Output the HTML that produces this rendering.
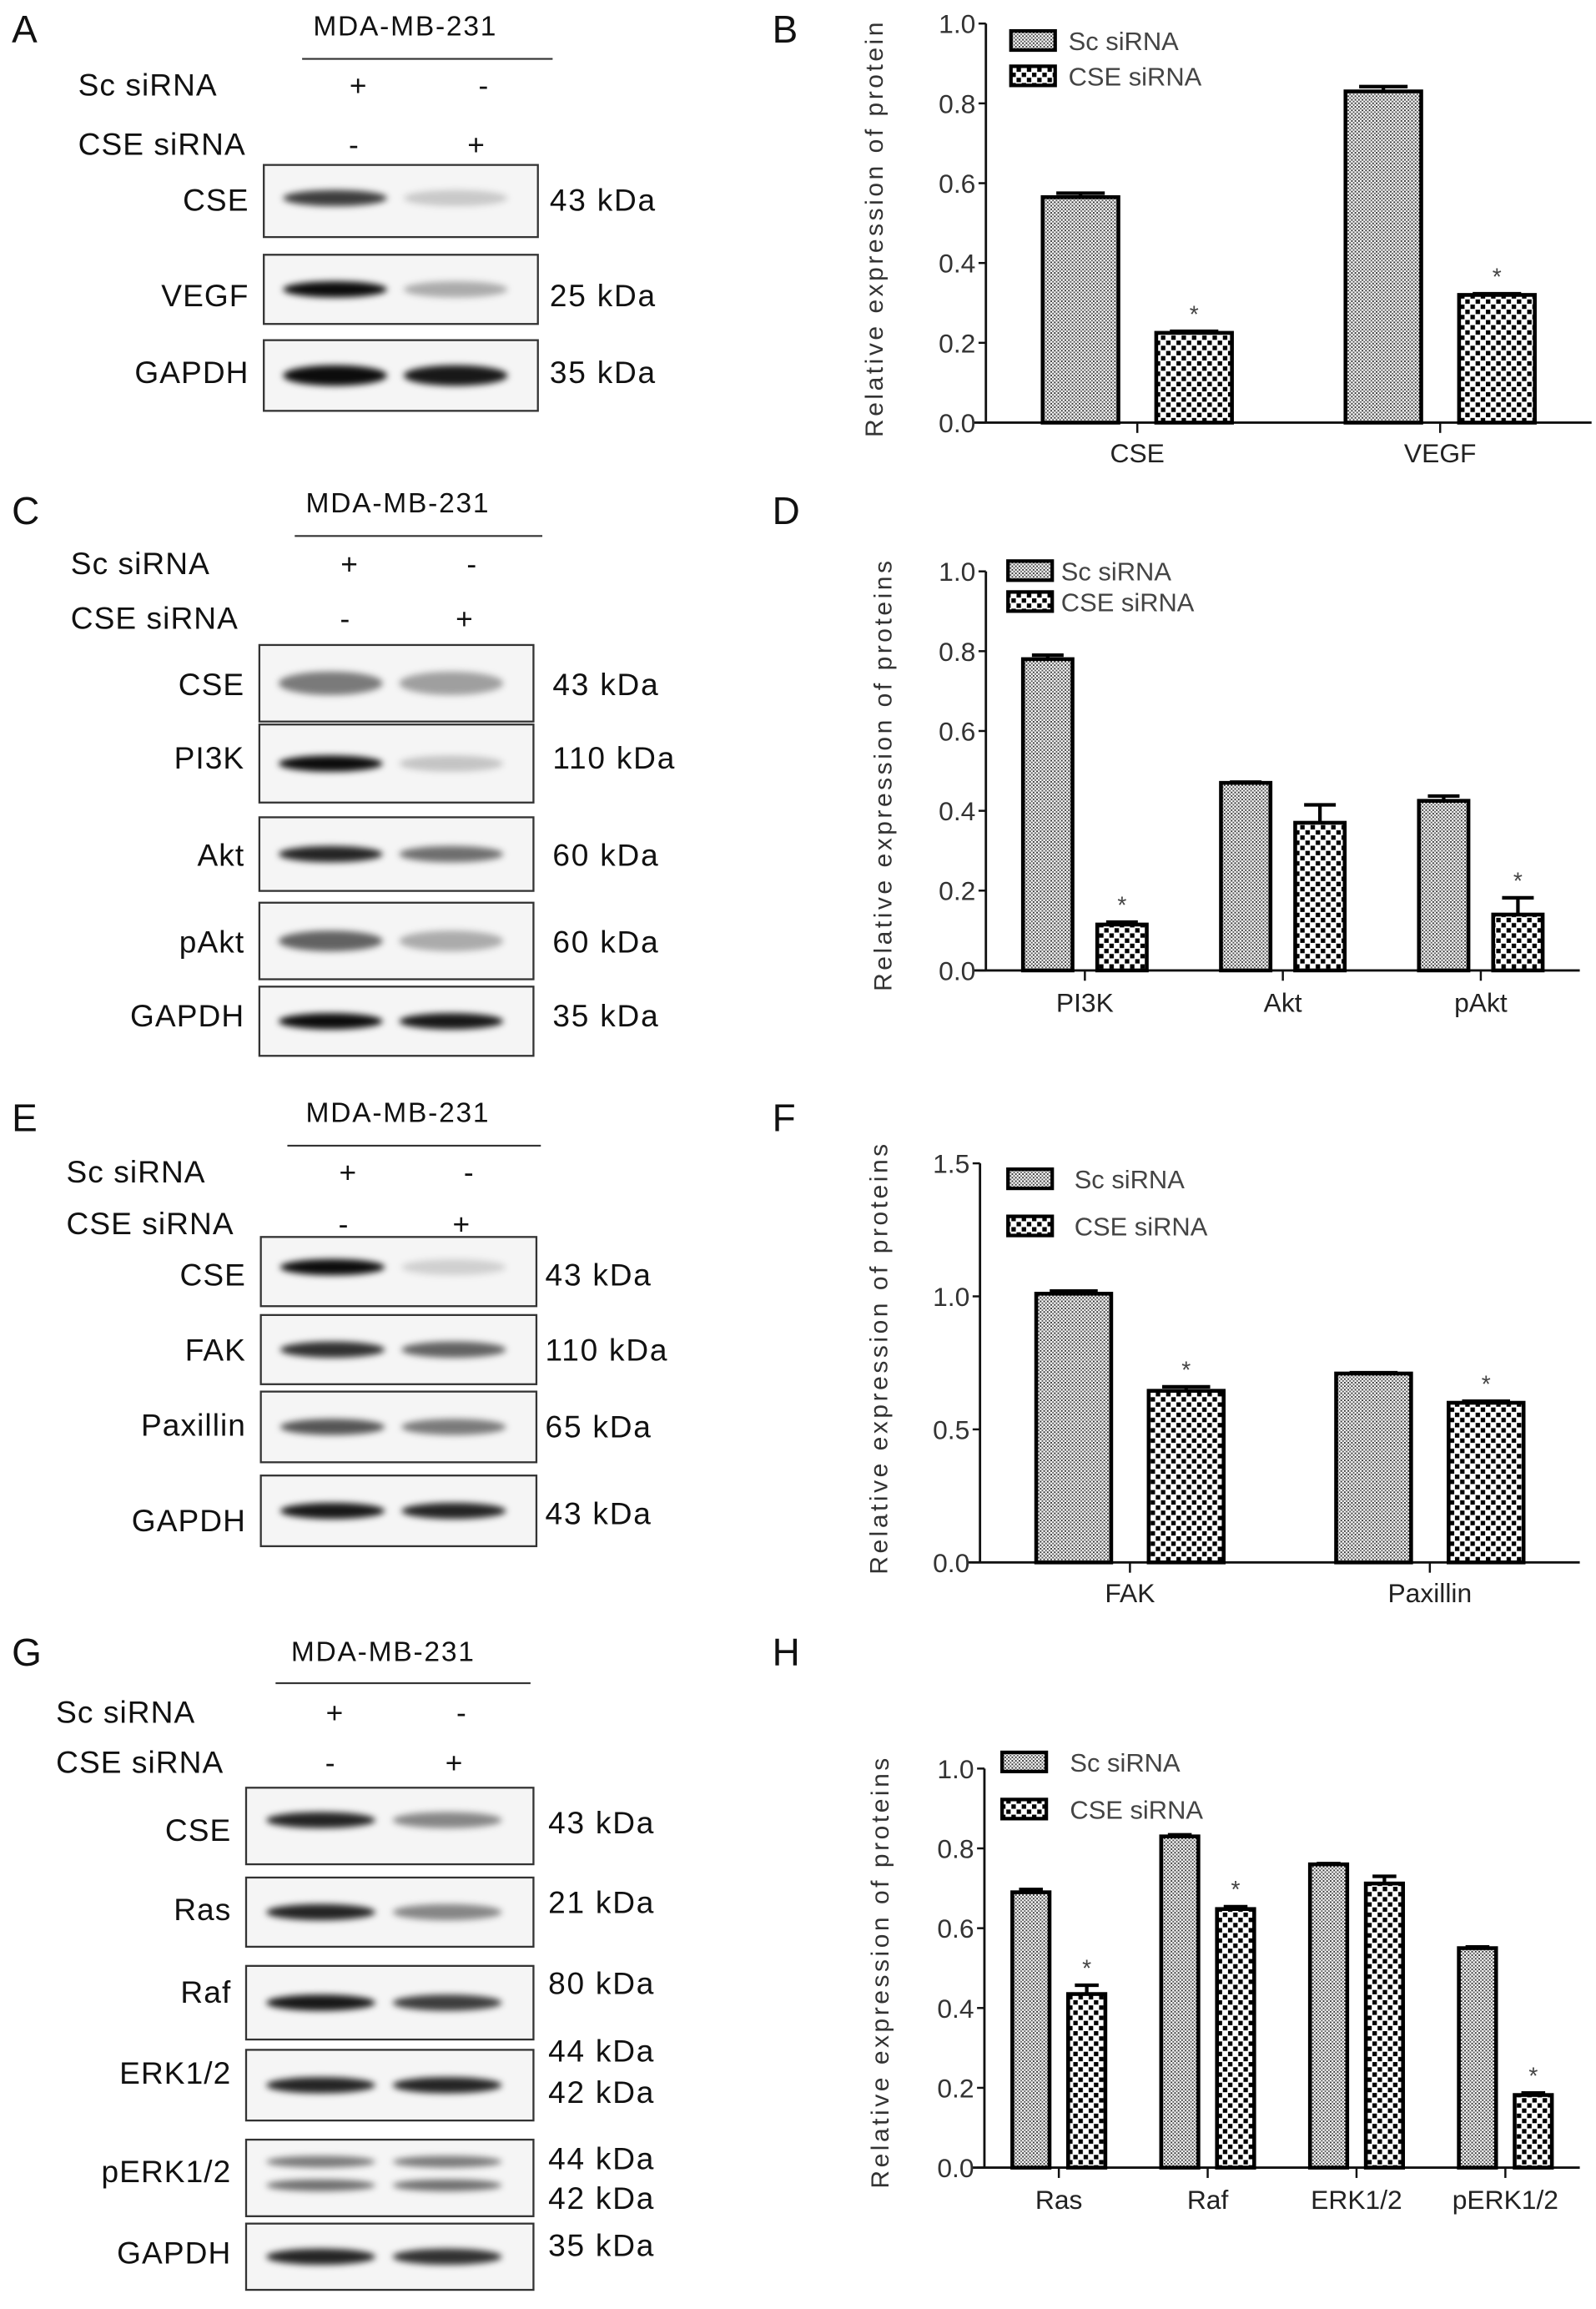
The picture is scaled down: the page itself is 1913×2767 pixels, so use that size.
<!DOCTYPE html>
<html><head><meta charset="utf-8">
<style>
html,body{margin:0;padding:0;background:#fff;}
svg{display:block;}
text{font-family:"Liberation Sans",Arial,sans-serif;}
</style></head>
<body>
<svg id="fig" width="1913" height="2767" viewBox="0 0 1083 1568" preserveAspectRatio="none" xmlns="http://www.w3.org/2000/svg">
<defs>
<pattern id="patSc" width="2.4" height="2.4" patternUnits="userSpaceOnUse">
<rect width="2.4" height="2.4" fill="#fff"/><rect x="0" y="0" width="1.1" height="1.1" fill="#333"/><rect x="1.2" y="1.2" width="1.1" height="1.1" fill="#555"/>
</pattern>
<pattern id="patCse" width="7" height="7" patternUnits="userSpaceOnUse">
<rect width="7" height="7" fill="#fff"/><rect x="0.3" y="0.3" width="3" height="3" fill="#000"/><rect x="3.8" y="3.8" width="3" height="3" fill="#000"/>
</pattern>
<filter id="blur" x="-30%" y="-80%" width="160%" height="260%"><feGaussianBlur stdDeviation="2.2"/></filter>
</defs>
<g id="panels"></g>
</svg>
<script>
// ---------- Chart data ----------
const bCats = ["CSE","VEGF"];
const bSc = [0.565, 0.83];
const bScErr = [0.01, 0.012];
const bCse = [0.225, 0.32];
const bCseErr = [0.004, 0.003];

const dCats = ["PI3K","Akt","pAkt"];
const dSc = [0.78, 0.47, 0.425];
const dScErr = [0.01, 0.002, 0.012];
const dCse = [0.115, 0.37, 0.14];
const dCseErr = [0.006, 0.045, 0.042];

const fCats = ["FAK","Paxillin"];
const fSc = [1.01, 0.71];
const fScErr = [0.01, 0.003];
const fCse = [0.645, 0.60];
const fCseErr = [0.015, 0.006];

const hCats = ["Ras","Raf","ERK1/2","pERK1/2"];
const hSc = [0.69, 0.83, 0.76, 0.55];
const hScErr = [0.007, 0.004, 0.002, 0.003];
const hCse = [0.435, 0.648, 0.712, 0.182];
const hCseErr = [0.022, 0.006, 0.018, 0.005];

const yTicksB = [0,0.2,0.4,0.6,0.8,1.0];
const yTickLabelsB = ["0.0","0.2","0.4","0.6","0.8","1.0"];
const yTicksF = [0,0.5,1.0,1.5];
const yTickLabelsF = ["0.0","0.5","1.0","1.5"];

const NS = "http://www.w3.org/2000/svg";
const root = document.getElementById("panels");
function mk(tag, attrs, parent){
  const e = document.createElementNS(NS, tag);
  for (const k in attrs) e.setAttribute(k, attrs[k]);
  (parent||root).appendChild(e);
  return e;
}
function txt(x,y,s,size,anchor,parent,extra){
  const t = mk("text",Object.assign({x:x,y:y,"font-size":size,"text-anchor":anchor||"start",fill:"#111"},extra||{}),parent);
  t.textContent = s;
  return t;
}

function chart(cfg){
  const g = mk("g",{});
  
  
  const yScale = v => cfg.y0 - (v/cfg.yMax)*(cfg.y0-cfg.yTop);
  const n = cfg.cats.length;
  const step = (cfg.xEnd - cfg.x0)/n;
  const xc = i => cfg.x0 + (i+0.5)*step;
  const bw = 0.25*step, off = 0.1875*step;
  const ya = mk("line",{x1:cfg.x0,y1:cfg.yTop,x2:cfg.x0,y2:cfg.y0,stroke:"#111","stroke-width":1.6},g);
  
  
  const xa = mk("line",{x1:cfg.x0-8,y1:cfg.y0,x2:cfg.xEnd,y2:cfg.y0,stroke:"#111","stroke-width":1.6},g);
  
  
  cfg.ticks.forEach((t,i)=>{
    const y = yScale(t);
    mk("line",{x1:cfg.x0-5,y1:y,x2:cfg.x0,y2:y,stroke:"#111","stroke-width":1.4},g);
    const lb = txt(cfg.x0-7,y+6.5,cfg.tickLabels[i],18,"end",g,{fill:"#333"});
    
    
  });
  const at = txt(0,0,cfg.title,17,"middle",g,{transform:`translate(${cfg.titleX},${cfg.titleY}) rotate(-90)`,"letter-spacing":"2","fill":"#333"});
  
  
  const series = [[cfg.sc,cfg.scErr,"url(#patSc)",-off],[cfg.cse,cfg.cseErr,"url(#patCse)",off]];
  for (let i=0;i<n;i++){
    const cx = xc(i);
    mk("line",{x1:cx,y1:cfg.y0,x2:cx,y2:cfg.y0+7,stroke:"#111","stroke-width":1.4},g);
    const cl = txt(cx,cfg.catY,cfg.cats[i],18,"middle",g,{fill:"#222"});
    
    
    series.forEach((s,si)=>{
      const v = s[0][i], e = s[1][i];
      const bx = cx + s[3] - bw/2;
      const top = yScale(v);
      const et = yScale(v+e);
      const el = mk("line",{x1:cx+s[3],y1:top,x2:cx+s[3],y2:et,stroke:"#000","stroke-width":2.4},g);
      
      
      const cap = mk("line",{x1:cx+s[3]-bw*0.32,y1:et,x2:cx+s[3]+bw*0.32,y2:et,stroke:"#000","stroke-width":2.4},g);
      
      
      const r = mk("rect",{x:bx,y:top,width:bw,height:cfg.y0-top,fill:s[2],stroke:"#000","stroke-width":2.6},g);
      
      
      if (si===1 && cfg.stars[i]){
        const st = txt(cx+s[3],et-6,"*",16,"middle",g,{fill:"#444"});
        
        
      }
    });
  }
  const L = cfg.leg;
  [["Sc siRNA","url(#patSc)",L.y1],["CSE siRNA","url(#patCse)",L.y2]].forEach(l=>{
    const lg = mk("g",{},g);
    
    
    mk("rect",{x:L.x,y:l[2],width:30,height:13,fill:l[1],stroke:"#000","stroke-width":2.4},lg);
    txt(L.tx,l[2]+13,l[0],17.5,"start",lg,{fill:"#444"});
  });
}

chart({name:"chart-b",cats:bCats,sc:bSc,scErr:bScErr,cse:bCse,cseErr:bCseErr,stars:[true,true],
  x0:669,xEnd:1080,y0:287,yTop:16,yMax:1.0,ticks:yTicksB,tickLabels:yTickLabelsB,catY:314,
  title:"Relative expression  of  protein",titleX:599,titleY:155,leg:{x:686,tx:725,y1:21,y2:45}});
chart({name:"chart-d",cats:dCats,sc:dSc,scErr:dScErr,cse:dCse,cseErr:dCseErr,stars:[true,false,true],
  x0:669,xEnd:1072,y0:659,yTop:388,yMax:1.0,ticks:yTicksB,tickLabels:yTickLabelsB,catY:687,
  title:"Relative expression  of  proteins",titleX:605,titleY:526,leg:{x:684,tx:720,y1:381,y2:402}});
chart({name:"chart-f",cats:fCats,sc:fSc,scErr:fScErr,cse:fCse,cseErr:fCseErr,stars:[true,true],
  x0:665,xEnd:1072,y0:1061,yTop:790,yMax:1.5,ticks:yTicksF,tickLabels:yTickLabelsF,catY:1088,
  title:"Relative expression  of  proteins",titleX:602,titleY:922,leg:{x:684,tx:729,y1:794,y2:826}});
chart({name:"chart-h",cats:hCats,sc:hSc,scErr:hScErr,cse:hCse,cseErr:hCseErr,stars:[true,true,false,true],
  x0:668,xEnd:1072,y0:1472,yTop:1201,yMax:1.0,ticks:yTicksB,tickLabels:yTickLabelsB,catY:1500,
  title:"Relative expression  of  proteins",titleX:603,titleY:1339,leg:{x:680,tx:726,y1:1190,y2:1222}});

[["A",8,29],["B",524,29],["C",8,356],["D",524,356],["E",8,768],["F",524,768],["G",8,1131],["H",524,1131]].forEach(p=>{
  const t = txt(p[1],p[2],p[0],26,"start",root,{fill:"#111"});
  
  
});

function blot(cfg){
  const g = mk("g",{});
  
  
  const tt = txt(cfg.titleX,cfg.titleY,"MDA-MB-231",19,"middle",g,{"letter-spacing":"1","fill":"#111"});
  
  
  mk("line",{x1:cfg.lineX1,y1:cfg.lineY,x2:cfg.lineX2,y2:cfg.lineY,stroke:"#333","stroke-width":1.2},g);
  const r1 = txt(cfg.lblX,cfg.scY,"Sc siRNA",21,"start",g,{"letter-spacing":"0.6"});
  
  
  txt(cfg.lane1,cfg.scY,"+",20,"middle",g); txt(cfg.lane2,cfg.scY,"-",20,"middle",g);
  const r2 = txt(cfg.lblX,cfg.cseY,"CSE siRNA",21,"start",g,{"letter-spacing":"0.6"});
  
  
  txt(cfg.lane1-3,cfg.cseY,"-",20,"middle",g); txt(cfg.lane2-5,cfg.cseY,"+",20,"middle",g);
  const W = cfg.bx2-cfg.bx1;
  cfg.rows.forEach(r=>{
    const rg = mk("g",{},g);
    
    
    mk("rect",{x:cfg.bx1,y:r.y1,width:W,height:r.y2-r.y1,fill:"#f5f5f5",stroke:"#333","stroke-width":1.3},rg);
    const cy = (r.y1+r.y2)/2 + (r.dy||0);
    const bands = r.bands || [[cy,r.i1,r.i2]];
    bands.forEach(b=>{
      [[0.26,b[1]],[0.70,b[2]]].forEach(l=>{
        mk("ellipse",{cx:cfg.bx1+l[0]*W,cy:b[0],rx:0.19*W,ry:r.h||5.5,fill:"#000","fill-opacity":l[1],filter:"url(#blur)"},rg);
      });
    });
    txt(cfg.bx1-10,r.ly,r.label,21,"end",rg,{"letter-spacing":"0.6"});
    (r.kda||[]).forEach(k=>txt(cfg.kX,k[1],k[0],21,"start",rg,{"letter-spacing":"1"}));
  });
}

blot({name:"blot-a",titleX:275,titleY:24,lineX1:205,lineX2:375,lineY:40,lblX:53,scY:65,cseY:105,lane1:243,lane2:328,
  bx1:179,bx2:365,kX:373,rows:[
  {label:"CSE",y1:112,y2:161,i1:0.75,i2:0.18,ly:143,kda:[["43 kDa",143]],dy:-2},
  {label:"VEGF",y1:173,y2:220,i1:0.95,i2:0.3,ly:208,kda:[["25 kDa",208]]},
  {label:"GAPDH",y1:231,y2:279,i1:0.95,i2:0.9,ly:260,kda:[["35 kDa",260]],h:7}]});

blot({name:"blot-c",titleX:270,titleY:348,lineX1:200,lineX2:368,lineY:364,lblX:48,scY:390,cseY:427,lane1:237,lane2:320,
  bx1:176,bx2:362,kX:375,rows:[
  {label:"CSE",y1:438,y2:490,i1:0.5,i2:0.35,ly:472,kda:[["43 kDa",472]],h:8},
  {label:"PI3K",y1:492,y2:545,i1:0.95,i2:0.2,ly:522,kda:[["110 kDa",522]]},
  {label:"Akt",y1:555,y2:605,i1:0.85,i2:0.55,ly:588,kda:[["60 kDa",588]]},
  {label:"pAkt",y1:613,y2:665,i1:0.6,i2:0.3,ly:647,kda:[["60 kDa",647]],h:7},
  {label:"GAPDH",y1:670,y2:717,i1:0.95,i2:0.9,ly:697,kda:[["35 kDa",697]]}]});

blot({name:"blot-e",titleX:270,titleY:762,lineX1:195,lineX2:367,lineY:778,lblX:45,scY:803,cseY:838,lane1:236,lane2:318,
  bx1:177,bx2:364,kX:370,rows:[
  {label:"CSE",y1:840,y2:887,i1:0.95,i2:0.15,ly:873,kda:[["43 kDa",873]],dy:-3},
  {label:"FAK",y1:893,y2:940,i1:0.8,i2:0.6,ly:924,kda:[["110 kDa",924]]},
  {label:"Paxillin",y1:945,y2:993,i1:0.65,i2:0.5,ly:975,kda:[["65 kDa",976]]},
  {label:"GAPDH",y1:1002,y2:1050,i1:0.9,i2:0.85,ly:1040,kda:[["43 kDa",1035]]}]});

blot({name:"blot-g",titleX:260,titleY:1128,lineX1:187,lineX2:360,lineY:1143,lblX:38,scY:1170,cseY:1204,lane1:227,lane2:313,
  bx1:167,bx2:362,kX:372,rows:[
  {label:"CSE",y1:1214,y2:1266,i1:0.85,i2:0.45,ly:1250,kda:[["43 kDa",1245]],dy:-4},
  {label:"Ras",y1:1275,y2:1322,i1:0.85,i2:0.45,ly:1304,kda:[["21 kDa",1299]]},
  {label:"Raf",y1:1335,y2:1385,i1:0.9,i2:0.75,ly:1360,kda:[["80 kDa",1354]]},
  {label:"ERK1/2",y1:1392,y2:1440,i1:0.85,i2:0.85,ly:1415,kda:[["44 kDa",1400],["42 kDa",1428]]},
  {label:"pERK1/2",y1:1453,y2:1505,ly:1482,kda:[["44 kDa",1473],["42 kDa",1500]],bands:[[1468,0.5,0.5],[1484,0.55,0.55]],h:4},
  {label:"GAPDH",y1:1510,y2:1555,i1:0.85,i2:0.8,ly:1537,kda:[["35 kDa",1532]]}]});
</script>
</body></html>
